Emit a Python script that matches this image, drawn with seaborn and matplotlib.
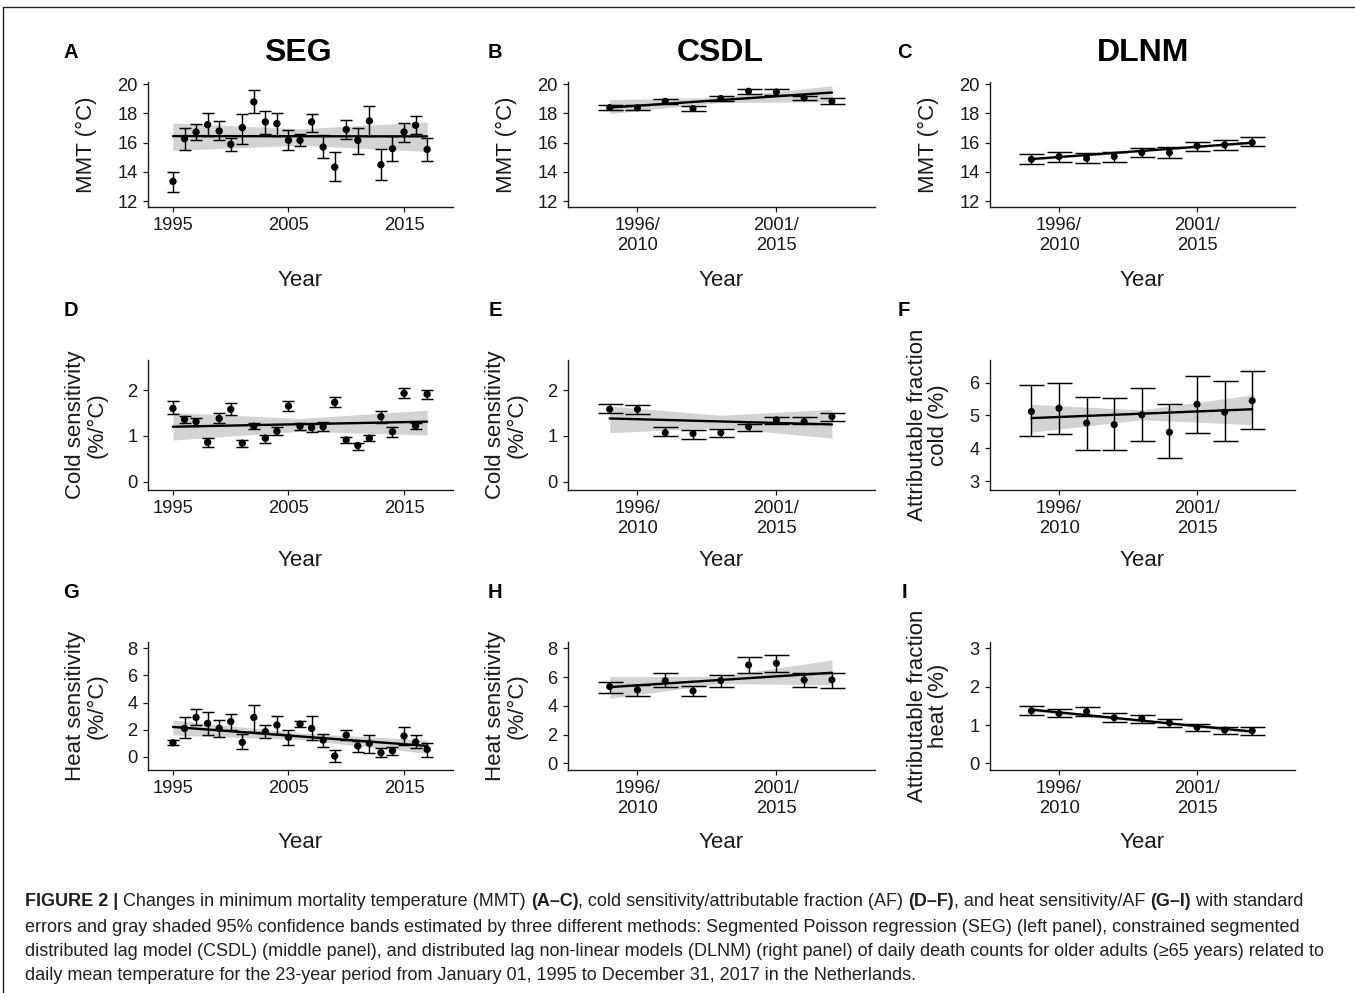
import numpy as np
import matplotlib
matplotlib.use("Agg")
import matplotlib.pyplot as plt
from matplotlib.lines import Line2D
import seaborn as sns

# ---- data ----
seg_years = [1995, 1996, 1997, 1998, 1999, 2000, 2001, 2002, 2003, 2004, 2005, 2006,
             2007, 2008, 2009, 2010, 2011, 2012, 2013, 2014, 2015, 2016, 2017]
win_start = [1995, 1996, 1997, 1998, 1999, 2000, 2001, 2002, 2003]
win_ticks = [1996, 2001]
win_labels = ["1996/\n2010", "2001/\n2015"]
seg_ticks = [1995, 2005, 2015]
seg_band_x = [1995, 2006, 2017]
win_band_x = [1995, 1999, 2003]

# SEG
seg_mmt = [13.35, 16.27, 16.73, 17.23, 16.8, 15.89, 17.03, 18.79, 17.42, 17.3, 16.16, 16.16,
           17.42, 15.7, 14.33, 16.9, 16.16, 17.49, 14.49, 15.59, 16.73, 17.19, 15.54]
seg_mmt_lo = [12.66, 15.52, 16.2, 16.43, 16.2, 15.43, 15.89, 18.06, 16.62, 16.48, 15.47, 15.75,
              16.73, 14.97, 13.37, 16.27, 15.25, 16.43, 13.42, 14.74, 16.02, 16.57, 14.74]
seg_mmt_hi = [14.0, 17.03, 17.3, 18.03, 17.5, 16.34, 17.94, 19.59, 18.15, 18.03, 16.85, 16.62,
              17.94, 16.5, 15.36, 17.53, 17.03, 18.51, 15.57, 16.43, 17.37, 17.85, 16.32]
seg_mmt_fit = [16.45, 16.43]
seg_mmt_band_lo = [15.47, 15.82, 15.4]
seg_mmt_band_hi = [17.35, 16.95, 17.42]

seg_cold = [1.6, 1.36, 1.31, 0.86, 1.38, 1.58, 0.84, 1.21, 0.95, 1.1, 1.65, 1.21,
            1.18, 1.2, 1.73, 0.91, 0.79, 0.95, 1.42, 1.09, 1.93, 1.22, 1.91]
seg_cold_lo = [1.48, 1.29, 1.22, 0.76, 1.29, 1.45, 0.76, 1.14, 0.85, 1.02, 1.55, 1.13,
               1.09, 1.1, 1.62, 0.85, 0.69, 0.89, 1.29, 0.98, 1.82, 1.14, 1.8]
seg_cold_hi = [1.75, 1.43, 1.4, 0.95, 1.49, 1.71, 0.91, 1.29, 1.03, 1.2, 1.77, 1.29,
               1.26, 1.31, 1.84, 0.98, 0.85, 1.02, 1.55, 1.2, 2.05, 1.29, 2.01]
seg_cold_fit = [1.2, 1.31]
seg_cold_band_lo = [0.91, 1.1, 1.02]
seg_cold_band_hi = [1.51, 1.38, 1.56]

seg_heat = [1.03, 2.09, 2.9, 2.46, 2.09, 2.59, 1.06, 2.9, 1.85, 2.34, 1.43, 2.41,
            2.09, 1.23, 0.05, 1.6, 0.79, 0.99, 0.3, 0.44, 1.53, 1.08, 0.54]
seg_heat_lo = [0.86, 1.35, 2.34, 1.6, 1.48, 1.97, 0.54, 1.85, 1.35, 1.67, 0.86, 2.17,
               1.23, 0.74, -0.37, 1.23, 0.37, 0.25, -0.05, 0.12, 0.86, 0.62, 0.0]
seg_heat_hi = [1.23, 2.9, 3.5, 3.33, 2.71, 3.13, 1.67, 3.82, 2.34, 3.0, 1.97, 2.66,
               3.0, 1.67, 0.49, 1.97, 1.18, 1.6, 0.62, 0.74, 2.17, 1.6, 1.03]
seg_heat_fit = [2.2, 0.8]
seg_heat_band_lo = [1.6, 1.27, 0.25]
seg_heat_band_hi = [2.71, 1.75, 1.23]

# CSDL
csdl_mmt = [18.4, 18.38, 18.83, 18.33, 19.02, 19.52, 19.47, 19.06, 18.83]
csdl_mmt_lo = [18.22, 18.22, 18.63, 18.17, 18.86, 19.36, 19.25, 18.9, 18.67]
csdl_mmt_hi = [18.56, 18.56, 19.02, 18.54, 19.18, 19.7, 19.66, 19.22, 19.04]
csdl_mmt_fit = [18.4, 19.43]
csdl_mmt_band_lo = [17.99, 18.75, 18.79]
csdl_mmt_band_hi = [18.95, 19.1, 19.89]

csdl_cold = [1.58, 1.58, 1.07, 1.05, 1.07, 1.2, 1.35, 1.31, 1.42]
csdl_cold_lo = [1.49, 1.48, 1.0, 0.94, 0.98, 1.11, 1.27, 1.26, 1.33]
csdl_cold_hi = [1.69, 1.67, 1.19, 1.13, 1.16, 1.26, 1.42, 1.42, 1.51]
csdl_cold_fit = [1.38, 1.25]
csdl_cold_band_lo = [1.07, 1.18, 0.95]
csdl_cold_band_hi = [1.65, 1.45, 1.58]

csdl_heat = [5.34, 5.1, 5.75, 5.03, 5.75, 6.84, 6.96, 5.8, 5.8]
csdl_heat_lo = [4.92, 4.69, 5.29, 4.69, 5.29, 6.26, 6.38, 5.29, 5.22]
csdl_heat_hi = [5.68, 5.45, 6.26, 5.38, 6.15, 7.42, 7.54, 6.26, 6.26]
csdl_heat_fit = [5.3, 6.3]
csdl_heat_band_lo = [4.52, 5.55, 5.45]
csdl_heat_band_hi = [6.03, 6.05, 7.19]

# DLNM
dlnm_mmt = [14.86, 15.05, 14.93, 15.05, 15.32, 15.32, 15.78, 15.85, 16.01]
dlnm_mmt_lo = [14.52, 14.7, 14.58, 14.68, 15.0, 14.98, 15.46, 15.5, 15.74]
dlnm_mmt_hi = [15.21, 15.35, 15.28, 15.39, 15.62, 15.67, 16.04, 16.2, 16.38]
dlnm_mmt_fit = [14.88, 16.0]
dlnm_mmt_band_lo = [14.78, 15.38, 15.9]
dlnm_mmt_band_hi = [14.98, 15.5, 16.1]

dlnm_cold = [5.12, 5.22, 4.77, 4.72, 5.02, 4.49, 5.34, 5.1, 5.45]
dlnm_cold_lo = [4.36, 4.43, 3.96, 3.96, 4.21, 3.71, 4.46, 4.21, 4.59]
dlnm_cold_hi = [5.93, 6.0, 5.56, 5.53, 5.85, 5.34, 6.21, 6.05, 6.36]
dlnm_cold_fit = [4.92, 5.19]
dlnm_cold_band_lo = [4.49, 4.87, 4.72]
dlnm_cold_band_hi = [5.34, 5.17, 5.63]

dlnm_heat = [1.37, 1.3, 1.35, 1.19, 1.17, 1.06, 0.94, 0.87, 0.85]
dlnm_heat_lo = [1.26, 1.2, 1.23, 1.09, 1.06, 0.96, 0.85, 0.77, 0.74]
dlnm_heat_hi = [1.5, 1.41, 1.48, 1.3, 1.26, 1.15, 1.03, 0.96, 0.94]
dlnm_heat_fit = [1.4, 0.83]
dlnm_heat_band_lo = [1.35, 1.08, 0.78]
dlnm_heat_band_hi = [1.45, 1.14, 0.88]

titles = ["SEG", "CSDL", "DLNM"]
letters = ["A", "B", "C", "D", "E", "F", "G", "H", "I"]
ylabels = ["MMT (°C)", "MMT (°C)", "MMT (°C)",
           "Cold sensitivity\n(%/°C)", "Cold sensitivity\n(%/°C)", "Attributable fraction\ncold (%)",
           "Heat sensitivity\n(%/°C)", "Heat sensitivity\n(%/°C)", "Attributable fraction\nheat (%)"]
yticks = [[12, 14, 16, 18, 20]] * 3 + [[0, 1, 2], [0, 1, 2], [3, 4, 5, 6]] + \
         [[0, 2, 4, 6, 8], [0, 2, 4, 6, 8], [0, 1, 2, 3]]
ylims = [(11.6, 20.15), (11.6, 20.15), (11.6, 20.15),
         (-0.18, 2.655), (-0.18, 2.655), (2.73, 6.69),
         (-0.98, 8.47), (-0.47, 8.44), (-0.17, 3.16)]

series = [
    (seg_mmt, seg_mmt_lo, seg_mmt_hi, seg_mmt_fit, seg_mmt_band_lo, seg_mmt_band_hi),
    (csdl_mmt, csdl_mmt_lo, csdl_mmt_hi, csdl_mmt_fit, csdl_mmt_band_lo, csdl_mmt_band_hi),
    (dlnm_mmt, dlnm_mmt_lo, dlnm_mmt_hi, dlnm_mmt_fit, dlnm_mmt_band_lo, dlnm_mmt_band_hi),
    (seg_cold, seg_cold_lo, seg_cold_hi, seg_cold_fit, seg_cold_band_lo, seg_cold_band_hi),
    (csdl_cold, csdl_cold_lo, csdl_cold_hi, csdl_cold_fit, csdl_cold_band_lo, csdl_cold_band_hi),
    (dlnm_cold, dlnm_cold_lo, dlnm_cold_hi, dlnm_cold_fit, dlnm_cold_band_lo, dlnm_cold_band_hi),
    (seg_heat, seg_heat_lo, seg_heat_hi, seg_heat_fit, seg_heat_band_lo, seg_heat_band_hi),
    (csdl_heat, csdl_heat_lo, csdl_heat_hi, csdl_heat_fit, csdl_heat_band_lo, csdl_heat_band_hi),
    (dlnm_heat, dlnm_heat_lo, dlnm_heat_hi, dlnm_heat_fit, dlnm_heat_band_lo, dlnm_heat_band_hi),
]

# ---- style ----
sns.set_theme(style="ticks")
plt.rcParams["font.family"] = ["Liberation Sans", "DejaVu Sans"]
plt.rcParams["axes.linewidth"] = 1.0
plt.rcParams["xtick.major.width"] = 0.9
plt.rcParams["ytick.major.width"] = 0.9
plt.rcParams["xtick.major.size"] = 3.5
plt.rcParams["ytick.major.size"] = 3.5

W, H = 1355, 993
fig = plt.figure(figsize=(W / 100, H / 100), dpi=100)
fig.patch.set_facecolor("white")

cols = [(148, 453), (568, 875), (990, 1295)]
rows = [(82, 207), (360, 490), (642, 770)]
year_y = [280, 561, 843]
ink = "#1a1a1a"

for i in range(9):
    r, c = divmod(i, 3)
    l, rr = cols[c]
    t, b = rows[r]
    ax = fig.add_axes([l / W, 1 - b / H, (rr - l) / W, (b - t) / H])
    est, lo, hi, fit, blo, bhi = series[i]
    if c == 0:
        xs, bx, cap, ms = seg_years, seg_band_x, 4.3, 28
        ax.set_xlim(1992.84, 2019.24)
        ax.set_xticks(seg_ticks)
        ax.set_xticklabels([str(v) for v in seg_ticks])
    else:
        xs, bx, cap, ms = win_start, win_band_x, 9.0, 26
        ax.set_xlim(1993.5, 2004.55)
        ax.set_xticks(win_ticks)
        ax.set_xticklabels(win_labels)
    est = np.array(est)
    yerr = [est - np.array(lo), np.array(hi) - est]

    ax.fill_between(bx, blo, bhi, color="#d3d3d3", lw=0, zorder=1)
    ax.errorbar(xs, est, yerr=yerr, fmt="none", ecolor="black", elinewidth=1.05,
                capsize=cap, capthick=1.05, zorder=2)
    sns.lineplot(x=[xs[0], xs[-1]], y=fit, ax=ax, color="black", lw=1.7, zorder=3)
    sns.scatterplot(x=xs, y=est, ax=ax, color="black", s=ms, edgecolor="none", zorder=4)

    ax.set_ylim(*ylims[i])
    ax.set_yticks(yticks[i])
    ax.set_yticklabels([str(v) for v in yticks[i]])
    ax.tick_params(labelsize=13.2, colors=ink, pad=4)
    for s in ["top", "right"]:
        ax.spines[s].set_visible(False)
    for s in ["left", "bottom"]:
        ax.spines[s].set_color(ink)

    axw, axh = rr - l, b - t
    ax.set_ylabel(ylabels[i], fontsize=16, color=ink, linespacing=1.05)
    ax.yaxis.label.set_va("center")
    ax.yaxis.set_label_coords(-62 / axw, 0.5)
    ax.set_xlabel("Year", fontsize=16, color=ink)
    ax.xaxis.label.set_va("center")
    ax.xaxis.set_label_coords(0.5, -(year_y[r] - b) / axh)

    # panel letters
    lx = [71, 495, 904][c]
    ly = [52, 310, 593][r]
    fig.text(lx / W, 1 - ly / H, letters[i], fontsize=14.5, fontweight="bold",
             ha="center", va="center", color="black")

for c, title in enumerate(titles):
    cx = [298, 720, 1143][c]
    fig.text(cx / W, 1 - 53 / H, title, fontsize=23, fontweight="bold",
             ha="center", va="center", color="black")

# ---- frame ----
fig.add_artist(Line2D([3 / W, 1], [1 - 7 / H, 1 - 7 / H], transform=fig.transFigure,
                      color="#222222", lw=1.0))
fig.add_artist(Line2D([3 / W, 3 / W], [0, 1 - 7 / H], transform=fig.transFigure,
                      color="#222222", lw=1.0))

# ---- caption ----
cap_lines = [
    [("FIGURE 2 | ", True), ("Changes in minimum mortality temperature (MMT) ", False), ("(A–C)", True),
     (", cold sensitivity/attributable fraction (AF) ", False), ("(D–F)", True),
     (", and heat sensitivity/AF ", False), ("(G–I)", True), (" with standard", False)],
    [("errors and gray shaded 95% confidence bands estimated by three different methods: Segmented Poisson "
      "regression (SEG) (left panel), constrained segmented", False)],
    [("distributed lag model (CSDL) (middle panel), and distributed lag non-linear models (DLNM) (right panel) "
      "of daily death counts for older adults (≥65 years) related to", False)],
    [("daily mean temperature for the 23-year period from January 01, 1995 to December 31, 2017 in the Netherlands.",
      False)],
]
cap_y = [902, 927, 951, 976]
renderer = fig.canvas.get_renderer()
for line, yy in zip(cap_lines, cap_y):
    x = 25
    for txt, bold in line:
        t = fig.text(x / W, 1 - yy / H, txt, fontsize=12.95, color="#231f20",
                     fontweight="bold" if bold else "normal", ha="left", va="center")
        x += t.get_window_extent(renderer).width

fig.savefig("out.png", dpi=100)
